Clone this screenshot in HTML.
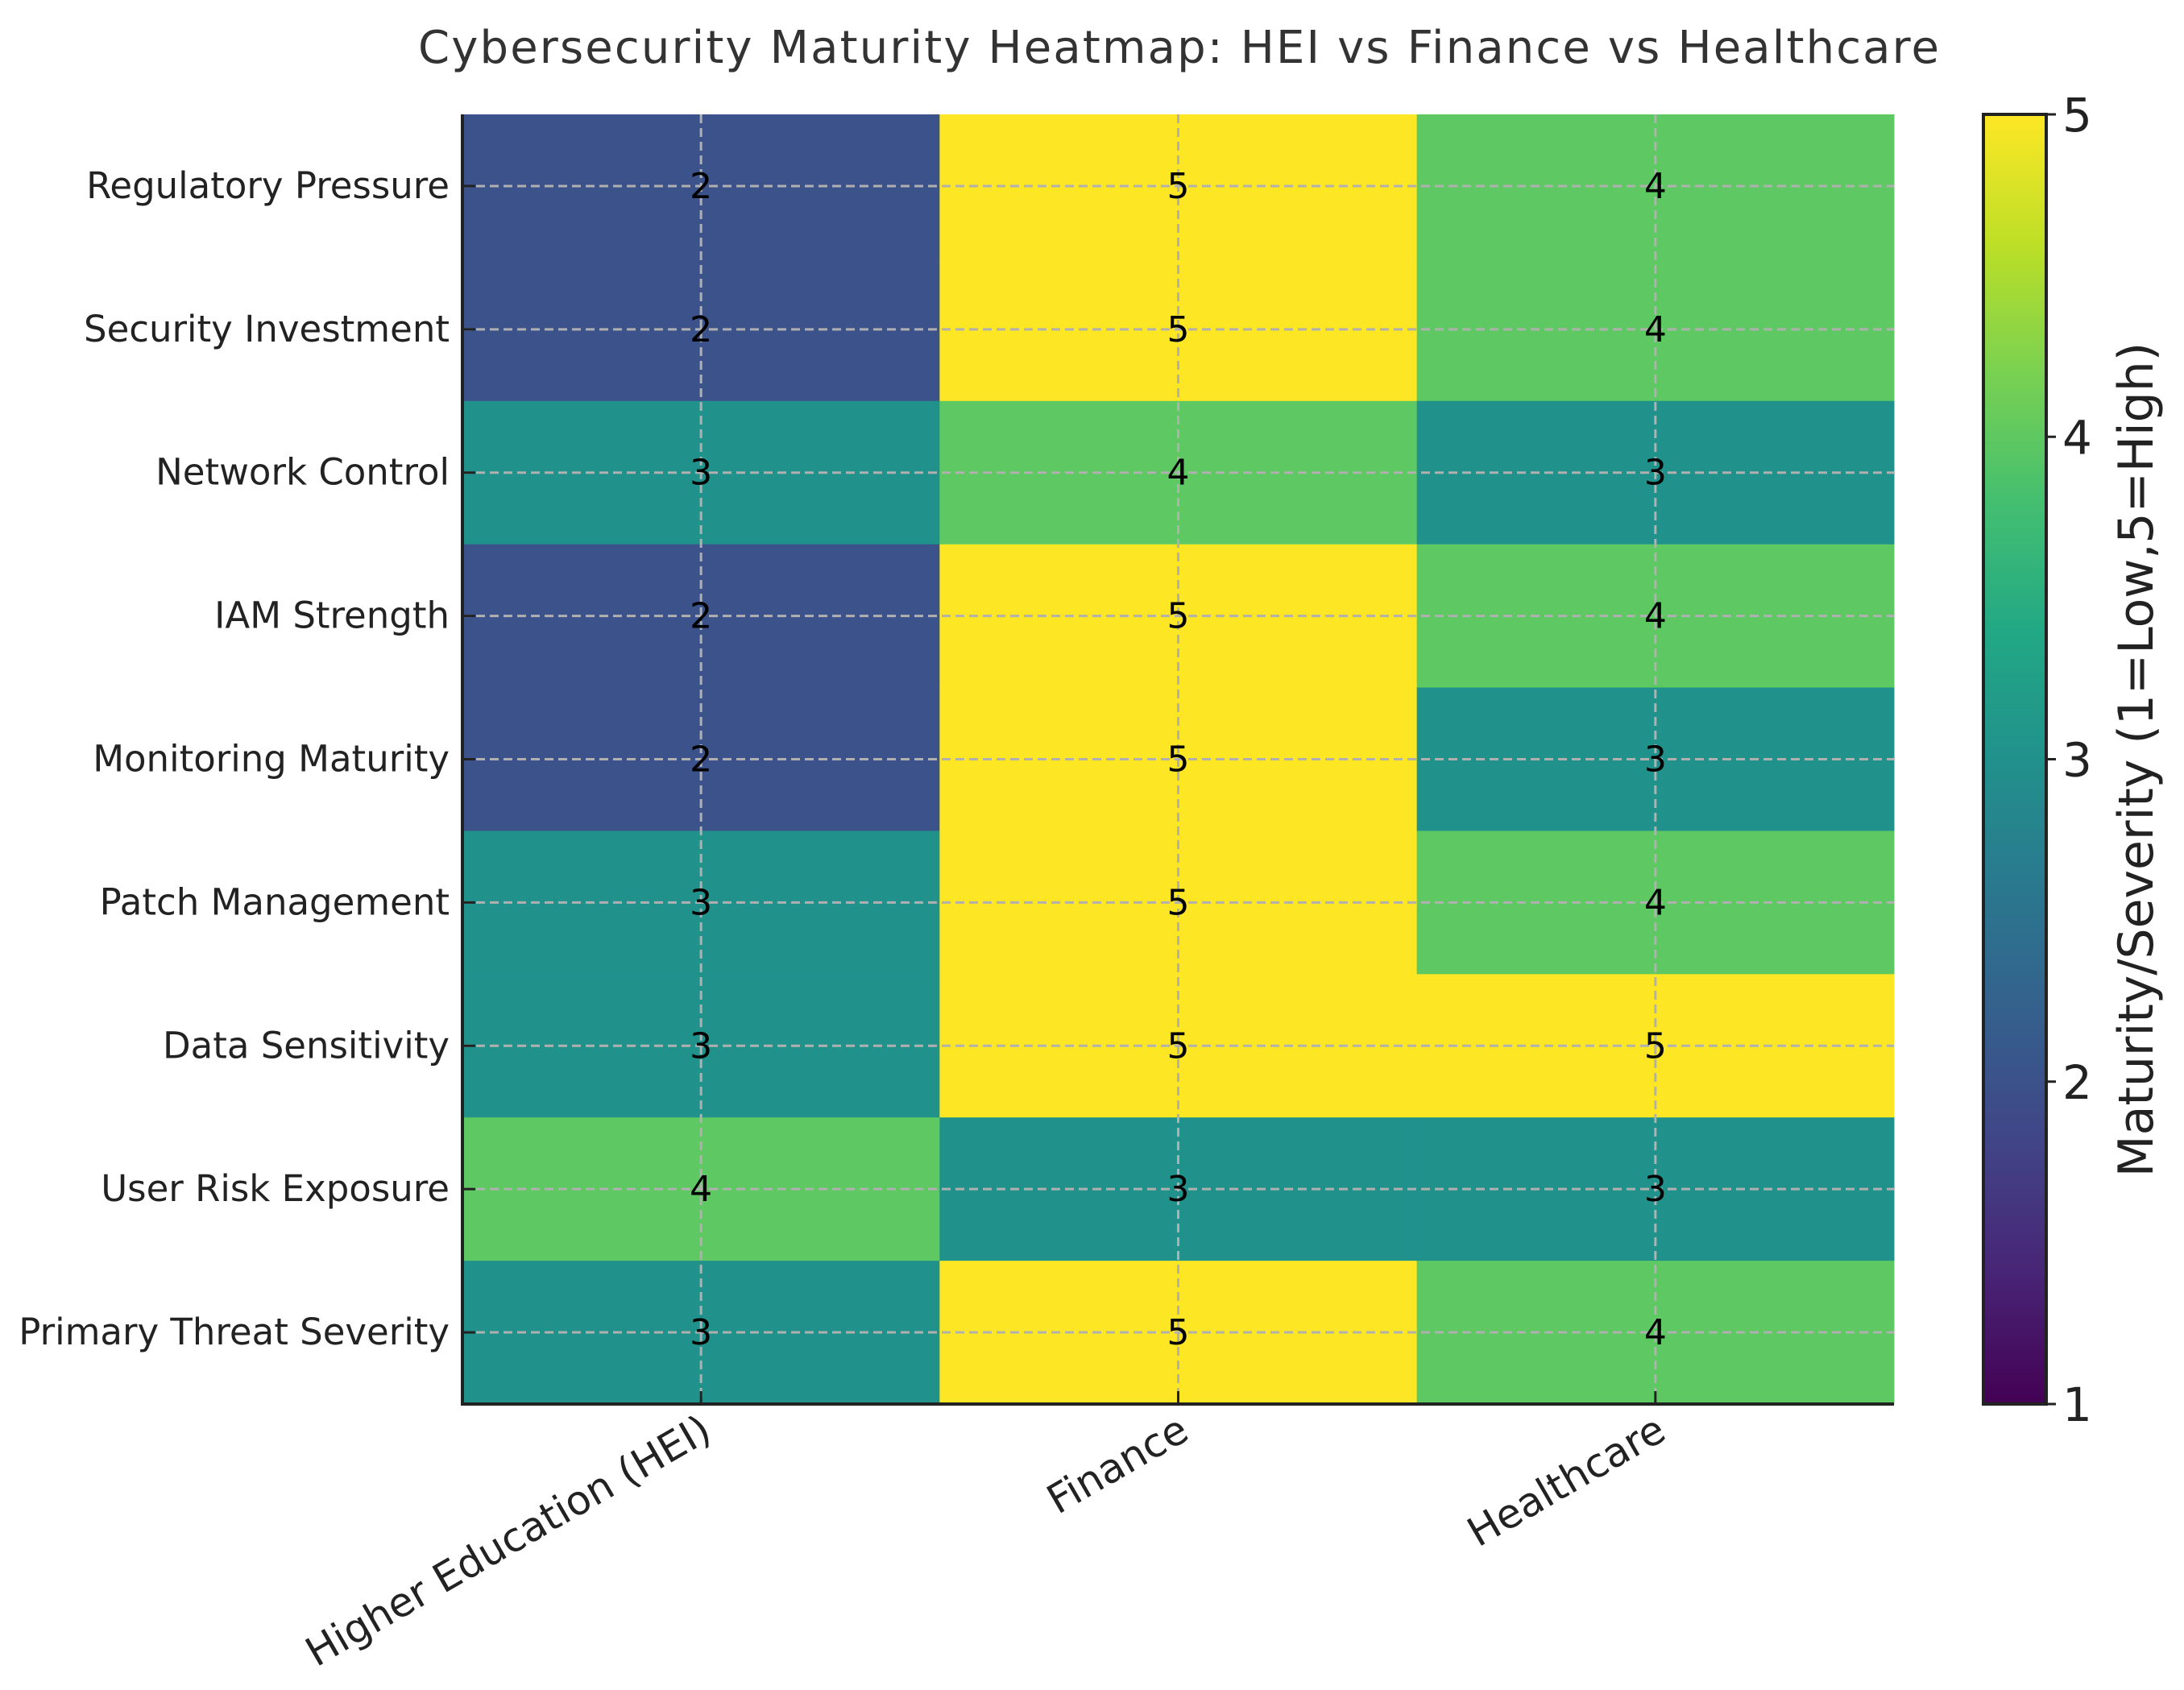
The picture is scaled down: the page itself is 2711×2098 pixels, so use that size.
<!DOCTYPE html>
<html><head><meta charset="utf-8"><style>
html,body{margin:0;padding:0;background:#fff}
svg{display:block;font-family:"DejaVu Sans","Liberation Sans",sans-serif}
</style></head><body>
<svg id="chart" width="2711" height="2098" viewBox="0 0 2711 2098" xmlns="http://www.w3.org/2000/svg">
<defs>
<linearGradient id="viridis" x1="0" y1="1" x2="0" y2="0">
<stop offset="0" stop-color="#440154"/><stop offset="0.1" stop-color="#482475"/><stop offset="0.2" stop-color="#414487"/><stop offset="0.3" stop-color="#355f8d"/><stop offset="0.4" stop-color="#2a788e"/><stop offset="0.5" stop-color="#21918c"/><stop offset="0.6" stop-color="#22a884"/><stop offset="0.7" stop-color="#44bf70"/><stop offset="0.8" stop-color="#7ad151"/><stop offset="0.9" stop-color="#bddf26"/><stop offset="1" stop-color="#fde725"/>
</linearGradient>
</defs>
<text x="1463" y="78" font-size="56" fill="#333" text-anchor="middle" textLength="1888">Cybersecurity Maturity Heatmap: HEI vs Finance vs Healthcare</text>
<g id="cells"></g>
<g id="grid"></g>
<g id="labels"></g>
<rect x="2462" y="142" width="78" height="1601" fill="url(#viridis)" stroke="#222" stroke-width="4"/>
<g id="cbticks"></g>
<text transform="translate(2672,943) rotate(-90)" font-size="60" fill="#222" text-anchor="middle">Maturity/Severity (1=Low,5=High)</text>
</svg>
<script>
const categories = ["Higher Education (HEI)", "Finance", "Healthcare"];
const rows = ["Regulatory Pressure","Security Investment","Network Control","IAM Strength","Monitoring Maturity","Patch Management","Data Sensitivity","User Risk Exposure","Primary Threat Severity"];
const hei = [2,2,3,2,2,3,3,4,3];
const finance = [5,5,4,5,5,5,5,3,5];
const healthcare = [4,4,3,4,3,4,5,3,4];
const cbTicks = [1,2,3,4,5];

const series = [hei, finance, healthcare];
const L=574, R=2351, T=142, B=1743;
const cw=(R-L)/categories.length, rh=(B-T)/rows.length;
const xC=i=>L+cw*(i+0.5), yC=j=>T+rh*(j+0.5);
const cbY=v=>B-(v-1)/4*(B-T);
const colors={1:"#440154",2:"#3b528b",3:"#21918c",4:"#5ec962",5:"#fde725"};
const NS="http://www.w3.org/2000/svg";
function mk(tag,attrs,parent){const e=document.createElementNS(NS,tag);for(const k in attrs)e.setAttribute(k,attrs[k]);parent.appendChild(e);return e;}
const cells=document.getElementById('cells'),grid=document.getElementById('grid'),labels=document.getElementById('labels'),cbt=document.getElementById('cbticks');
series.forEach((s,i)=>{s.forEach((v,j)=>{
  const r=mk('rect',{x:L+cw*i,y:T+rh*j,width:cw+0.5,height:rh+0.5,fill:colors[v]},cells);
  
  
  const t=mk('text',{x:xC(i),y:yC(j)+15,'font-size':44,fill:'#000','text-anchor':'middle'},labels);
  t.textContent=v;
  
  
});});
rows.forEach((r,j)=>{
  const g=mk('line',{x1:L,x2:R,y1:yC(j),y2:yC(j),stroke:'#b0b0b0','stroke-width':3,'stroke-dasharray':'11 6'},grid);
  
  
  mk('line',{x1:L,x2:L+16,y1:yC(j),y2:yC(j),stroke:'#222','stroke-width':3},grid);
  const t=mk('text',{x:L-16,y:yC(j)+15,'font-size':45,fill:'#222','text-anchor':'end'},labels);
  t.textContent=r;
  
  
});
categories.forEach((c,i)=>{
  const g=mk('line',{x1:xC(i),x2:xC(i),y1:T,y2:B,stroke:'#b0b0b0','stroke-width':3,'stroke-dasharray':'11 6'},grid);
  
  
  mk('line',{x1:xC(i),x2:xC(i),y1:B-16,y2:B,stroke:'#222','stroke-width':3},grid);
  const t=mk('text',{transform:`translate(${xC(i)+16},${B+42}) rotate(-30)`,'font-size':50,fill:'#222','text-anchor':'end'},labels);
  t.textContent=c;
  
  
});
mk('line',{x1:L,x2:L,y1:T,y2:B+2,stroke:'#222','stroke-width':4},grid);
mk('line',{x1:L-2,x2:R,y1:B,y2:B,stroke:'#222','stroke-width':4},grid);
cbTicks.forEach(v=>{
  mk('line',{x1:2540,x2:2552,y1:cbY(v),y2:cbY(v),stroke:'#222','stroke-width':3},cbt);
  const t=mk('text',{x:2560,y:cbY(v)+21,'font-size':58,fill:'#222'},cbt);
  t.textContent=v;
  
  
});
</script>
</body></html>
